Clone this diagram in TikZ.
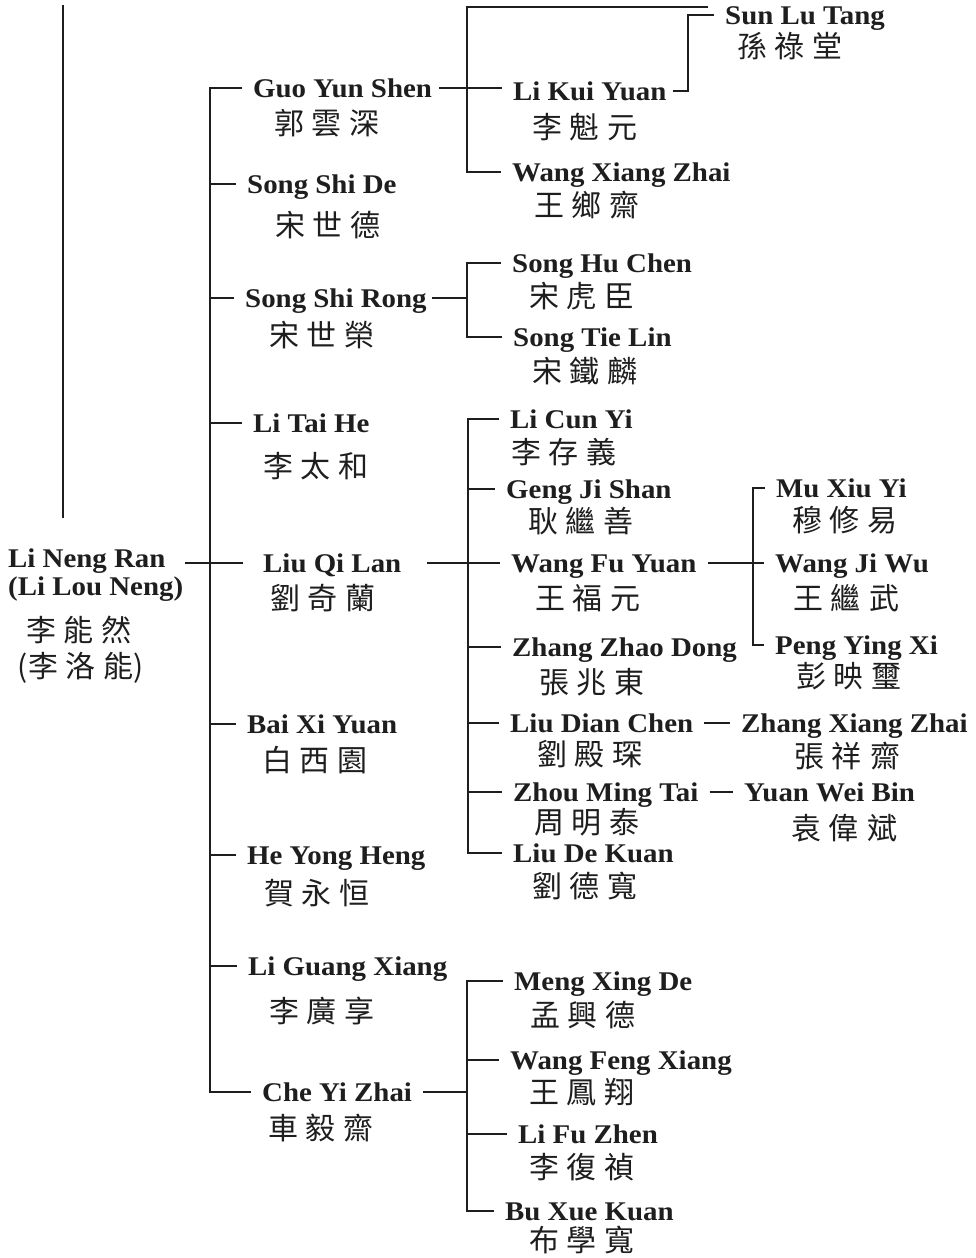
\documentclass[tikz,border=0pt]{standalone}
\usepackage{fontspec}
\setmainfont{Liberation Serif}[FakeStretch=1.07]
\newfontfamily\cjk{Noto Sans CJK TC}
\newcommand\zs{\hspace{8pt}}
\definecolor{ink}{HTML}{1E1E1E}
\tikzset{
  en/.style={anchor=west, font=\fontsize{27}{30}\selectfont\bfseries, inner xsep=11pt, inner ysep=0pt, text height=18pt, text depth=0pt, text=ink},
  zh/.style={font=\fontsize{30}{33}\selectfont\cjk, inner sep=0pt, text=ink},
  ln/.style={line width=2.2pt, draw=ink},
}
\begin{document}
\begin{tikzpicture}[x=1pt,y=-1pt]
\useasboundingbox[fill=white] (0,0) rectangle (975,1258);

% ---- root ----
\node[en] (rootA) at (-3,558) {Li Neng Ran};
\node[en] (rootB) at (-3,586) {(Li Lou Neng)};
\node[zh] (rootC) at (79,630) {李\zs 能\zs 然};
\node[zh] (rootD) at (81,668) {(李\zs 洛\zs 能)};
\coordinate (upA) at (63,5);
\coordinate (upB) at (63,518);

% ---- level 1 ----
\node[en] (guo) at (242,88) {Guo Yun Shen};
\node[zh] (guoC) at (327,123) {郭\zs 雲\zs 深};
\node[en] (sde) at (236,184) {Song Shi De};
\node[zh] (sdeC) at (328,225) {宋\zs 世\zs 德};
\node[en] (ssr) at (234,298) {Song Shi Rong};
\node[zh] (ssrC) at (322,335) {宋\zs 世\zs 榮};
\node[en] (lth) at (242,423) {Li Tai He};
\node[zh] (lthC) at (316,466) {李\zs 太\zs 和};
\node[en] (lql) at (252,563) {Liu Qi Lan};
\node[zh] (lqlC) at (323,598) {劉\zs 奇\zs 蘭};
\node[en] (bxy) at (236,724) {Bai Xi Yuan};
\node[zh] (bxyC) at (315,760) {白\zs 西\zs 園};
\node[en] (hyh) at (236,855) {He Yong Heng};
\node[zh] (hyhC) at (317,893) {賀\zs 永\zs 恒};
\node[en] (lgx) at (237,966) {Li Guang Xiang};
\node[zh] (lgxC) at (322,1011) {李\zs 廣\zs 享};
\node[en] (che) at (251,1092) {Che Yi Zhai};
\node[zh] (cheC) at (321,1128) {車\zs 毅\zs 齋};

% ---- level 2 ----
\node[en] (sun) at (714,15) {Sun Lu Tang};
\node[zh] (sunC) at (790,46) {孫\zs 祿\zs 堂};
\node[en] (lky) at (502,91) {Li Kui Yuan};
\node[zh] (lkyC) at (585,127) {李\zs 魁\zs 元};
\node[en] (wxz) at (501,172) {Wang Xiang Zhai};
\node[zh] (wxzC) at (587,205) {王\zs 鄉\zs 齋};
\node[en] (shc) at (501,263) {Song Hu Chen};
\node[zh] (shcC) at (582,296) {宋\zs 虎\zs 臣};
\node[en] (stl) at (502,337) {Song Tie Lin};
\node[zh] (stlC) at (585,371) {宋\zs 鐵\zs 麟};
\node[en] (lcy) at (499,419) {Li Cun Yi};
\node[zh] (lcyC) at (564,452) {李\zs 存\zs 義};
\node[en] (gjs) at (495,489) {Geng Ji Shan};
\node[zh] (gjsC) at (581,521) {耿\zs 繼\zs 善};
\node[en] (wfy) at (500,563) {Wang Fu Yuan};
\node[zh] (wfyC) at (588,598) {王\zs 福\zs 元};
\node[en] (zzd) at (501,647) {Zhang Zhao Dong};
\node[zh] (zzdC) at (592,682) {張\zs 兆\zs 東};
\node[en] (ldc) at (499,723) {Liu Dian Chen};
\node[zh] (ldcC) at (590,754) {劉\zs 殿\zs 琛};
\node[en] (zmt) at (502,792) {Zhou Ming Tai};
\node[zh] (zmtC) at (587,822) {周\zs 明\zs 泰};
\node[en] (ldk) at (502,853) {Liu De Kuan};
\node[zh] (ldkC) at (585,886) {劉\zs 德\zs 寬};
\node[en] (mxd) at (503,981) {Meng Xing De};
\node[zh] (mxdC) at (583,1015) {孟\zs 興\zs 德};
\node[en] (wfx) at (499,1060) {Wang Feng Xiang};
\node[zh] (wfxC) at (582,1092) {王\zs 鳳\zs 翔};
\node[en] (lfz) at (507,1134) {Li Fu Zhen};
\node[zh] (lfzC) at (582,1167) {李\zs 復\zs 禎};
\node[en] (bxk) at (494,1211) {Bu Xue Kuan};
\node[zh] (bxkC) at (582,1240) {布\zs 學\zs 寬};

% ---- level 3 ----
\node[en] (mxy) at (765,488) {Mu Xiu Yi};
\node[zh] (mxyC) at (845,520) {穆\zs 修\zs 易};
\node[en] (wjw) at (764,563) {Wang Ji Wu};
\node[zh] (wjwC) at (846,598) {王\zs 繼\zs 武};
\node[en] (pyx) at (764,645) {Peng Ying Xi};
\node[zh] (pyxC) at (849,676) {彭\zs 映\zs 璽};
\node[en] (zxz) at (730,723) {Zhang Xiang Zhai};
\node[zh] (zxzC) at (847,756) {張\zs 祥\zs 齋};
\node[en] (ywb) at (733,792) {Yuan Wei Bin};
\node[zh] (ywbC) at (844,828) {袁\zs 偉\zs 斌};

% ---- bracket columns ----
\coordinate (trunk) at (210,0);
\coordinate (gb) at (467,0);
\coordinate (gtop) at (708,7);
\coordinate (kb) at (688,0);
\coordinate (rb) at (467,0);
\coordinate (lb) at (468,0);
\coordinate (fb) at (753,0);
\coordinate (cb) at (467,0);
\coordinate (rootx) at (185,0);

% ---- connectors ----
\draw[ln] (upA) -- (upB);
% root to Liu Qi Lan
\draw[ln] (rootx |- lql.west) -- ([xshift=-9pt]lql.west);
% trunk
\draw[ln] (guo.west) -- (guo.west -| trunk) -- (che.west -| trunk) -- (che.west);
\foreach \n in {sde,ssr,lth,bxy,hyh,lgx}
  \draw[ln] (\n.west -| trunk) -- (\n.west);

% Guo Yun Shen
\draw[ln] ([xshift=-4pt]guo.east) -- (guo.east -| lky.west);
\draw[ln] (gtop) -- (gtop -| gb) -- (gb |- wxz.west) -- (wxz.west);
\draw[ln] ([xshift=-5pt]lky.east) -- (lky.east -| kb) -- (kb |- sun.west) -- (sun.west);

% Song Shi Rong
\draw[ln] ([xshift=-6pt]ssr.east) -- (ssr.east -| rb);
\draw[ln] (shc.west) -- (shc.west -| rb) -- (rb |- stl.west) -- (stl.west);

% Liu Qi Lan
\draw[ln] ([xshift=15pt]lql.east) -- (lql.east -| wfy.west);
\draw[ln] (lcy.west) -- (lcy.west -| lb) -- (lb |- ldk.west) -- (ldk.west);
\foreach \n in {gjs,zzd,ldc,zmt}
  \draw[ln] (\n.west -| lb) -- (\n.west);

% Wang Fu Yuan
\draw[ln] (wfy.east) -- (wfy.east -| wjw.west);
\draw[ln] (mxy.west) -- (mxy.west -| fb) -- (fb |- pyx.west) -- (pyx.west);

% single successors
\draw[ln] (ldc.east) -- (ldc.east -| zxz.west);
\draw[ln] (zmt.east) -- (zmt.east -| ywb.west);

% Che Yi Zhai
\draw[ln] (che.east) -- (che.east -| cb);
\draw[ln] (mxd.west) -- (mxd.west -| cb) -- (cb |- bxk.west) -- (bxk.west);
\foreach \n in {wfx,lfz}
  \draw[ln] (\n.west -| cb) -- (\n.west);
\end{tikzpicture}
\end{document}
